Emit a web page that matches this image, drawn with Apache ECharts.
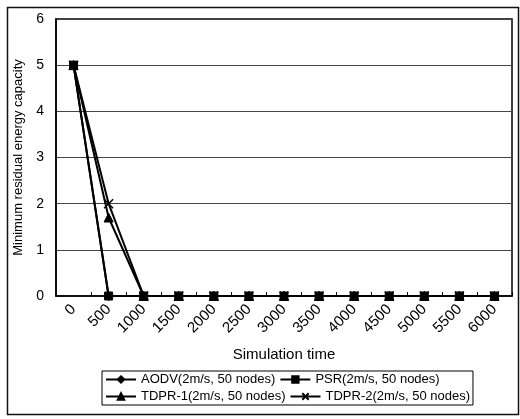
<!DOCTYPE html>
<html>
<head>
<meta charset="utf-8">
<script src="https://cdn.jsdelivr.net/npm/echarts@6/dist/echarts.min.js"></script>
<style>html,body{margin:0;padding:0;background:#fff}#c{width:520px;height:419px}</style>
</head>
<body>
<div id="c"></div>
<script>
var categories = ['0','500','1000','1500','2000','2500','3000','3500','4000','4500','5000','5500','6000'];
var seriesNames = ['AODV(2m/s, 50 nodes)','PSR(2m/s, 50 nodes)','TDPR-1(2m/s, 50 nodes)','TDPR-2(2m/s, 50 nodes)'];
var aodv  = [5, 0, 0, 0, 0, 0, 0, 0, 0, 0, 0, 0, 0];
var psr   = [5, 0, 0, 0, 0, 0, 0, 0, 0, 0, 0, 0, 0];
var tdpr1 = [5, 1.7, 0, 0, 0, 0, 0, 0, 0, 0, 0, 0, 0];
var tdpr2 = [5, 2, 0, 0, 0, 0, 0, 0, 0, 0, 0, 0, 0];
var yTicks = [0, 1, 2, 3, 4, 5, 6];

var FONT = 'Liberation Sans, Arial, sans-serif';
var chart = echarts.init(document.getElementById('c'), null, {renderer: 'canvas'});
function mk(name, data, symbol, size, extra) {
  var s = {
    name: name, type: 'line', data: data, symbol: symbol, symbolSize: size,
    showAllSymbol: true, animation: false,
    lineStyle: {color: '#000', width: 2},
    itemStyle: {color: '#000', borderColor: '#000', borderWidth: 1}
  };
  if (extra) { for (var k in extra) s[k] = extra[k]; }
  return s;
}
chart.setOption({
  backgroundColor: '#fff',
  animation: false,
  graphic: [{
    type: 'rect', left: 5, top: 5, silent: true,
    shape: {width: 511, height: 407},
    style: {fill: 'none', stroke: '#111', lineWidth: 1.5}
  }],
  grid: {left: 56, top: 19, width: 456, height: 277, show: true, borderColor: '#000', borderWidth: 1.5, backgroundColor: '#fff'},
  legend: {
    left: 102, top: 371, width: 370,
    itemWidth: 30, itemHeight: 8, itemGap: 4,
    padding: [2, 3], borderColor: '#000', borderWidth: 1,
    textStyle: {fontSize: 13, width: 143, color: '#000', fontFamily: FONT},
    data: seriesNames
  },
  xAxis: {
    type: 'category', data: categories, boundaryGap: true,
    name: 'Simulation time', nameLocation: 'middle', nameGap: 51,
    nameTextStyle: {fontSize: 15, color: '#000', fontFamily: FONT},
    axisLine: {lineStyle: {color: '#000', width: 1.5}},
    axisTick: {show: true, inside: true, length: 4, lineStyle: {color: '#000'}},
    axisLabel: {rotate: 45, fontSize: 15, color: '#000', fontFamily: FONT, margin: 11}
  },
  yAxis: {
    type: 'value', min: yTicks[0], max: yTicks[yTicks.length - 1], interval: 1,
    name: 'Minimum residual energy capacity', nameLocation: 'middle', nameGap: 21,
    nameTextStyle: {fontSize: 13, color: '#000', fontFamily: FONT},
    axisLine: {show: true, lineStyle: {color: '#000', width: 1.5}},
    axisTick: {show: false},
    axisLabel: {fontSize: 14, color: '#000', fontFamily: FONT, margin: 12},
    splitLine: {lineStyle: {color: '#444', width: 1}}
  },
  series: [
    mk(seriesNames[0], aodv, 'diamond', 9),
    mk(seriesNames[1], psr, 'rect', 8),
    mk(seriesNames[2], tdpr1, 'triangle', 9),
    mk(seriesNames[3], tdpr2, 'path://M0,0L10,10M10,0L0,10', 9, {
      itemStyle: {color: 'none', borderColor: '#000', borderWidth: 1.5}
    })
  ]
});
</script>
</body>
</html>
